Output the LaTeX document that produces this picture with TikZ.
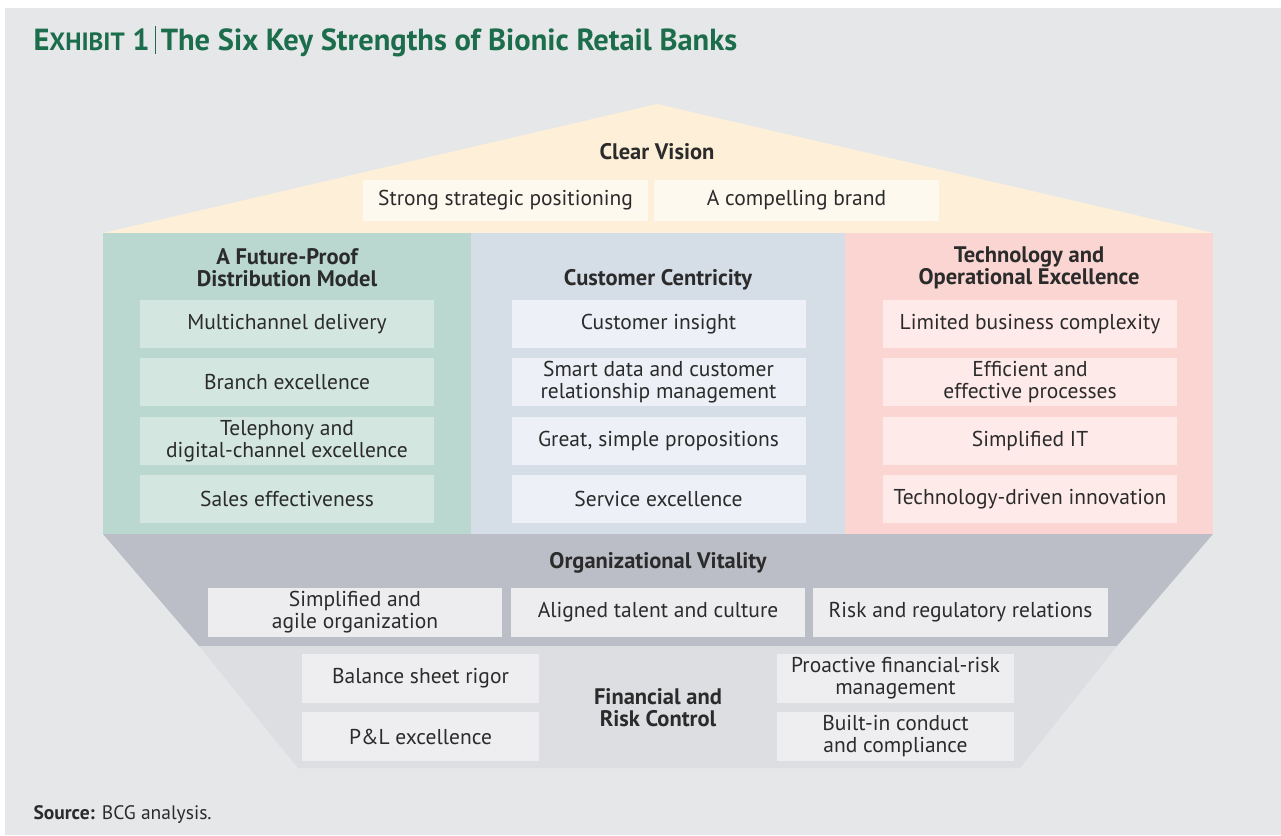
\documentclass[tikz,border=0pt]{standalone}
\usepackage{fontspec}
\setmainfont{PT Sans}
\usetikzlibrary{positioning}

\definecolor{bggray}{HTML}{E6E7E9}
\definecolor{titlegreen}{HTML}{1B6D4B}
\definecolor{inkgray}{HTML}{2B2B2B}
\definecolor{roofcol}{HTML}{FEF0D8}
\definecolor{roofbox}{HTML}{FEF9EE}
\definecolor{tealcol}{HTML}{BAD8D0}
\definecolor{tealbox}{HTML}{D3E6E0}
\definecolor{bluecol}{HTML}{D5DDE7}
\definecolor{bluebox}{HTML}{EDF0F6}
\definecolor{redcol}{HTML}{FAD5D1}
\definecolor{redbox}{HTML}{FEEAE9}
\definecolor{orgcol}{HTML}{BBBEC6}
\definecolor{orgbox}{HTML}{EDEDEF}
\definecolor{fincol}{HTML}{DDDEE1}
\definecolor{finbox}{HTML}{EEEEF0}

\begin{document}
\begin{tikzpicture}[
    x=1pt, y=-1pt,
    item/.style={rectangle, minimum width=294pt, minimum height=48pt, inner sep=0pt, align=center, text=inkgray, font=\fontsize{21.5}{22}\selectfont},
    head/.style={align=center, text=inkgray, font=\fontsize{22.5}{22}\selectfont\bfseries},
    roofitem/.style={item, fill=roofbox, minimum width=285pt, minimum height=41pt},
    finitem/.style={item, fill=finbox, minimum width=237pt, minimum height=49pt}
]
\useasboundingbox (0,0) rectangle (1281,835);
\fill[bggray] (5,8) rectangle (1281,835);

% Title
\node[anchor=base west, text=titlegreen, font=\fontsize{30.5}{33}\selectfont\bfseries] (title) at (30,50)
    {E{\fontsize{25}{27}\selectfont XHIBIT} 1\,\rule[-4pt]{0.8pt}{28pt}\,The Six Key Strengths of Bionic Retail Banks};

% Clear Vision (roof)
\fill[roofcol] (103,233) -- (657,104) -- (1213,233) -- cycle;
\node[head] (vision) at (657,152) {Clear Vision};
\node[roofitem] (strategy) at (505.5,200.5) {Strong strategic positioning};
\node[roofitem] (brand) at (796.5,200.5) {A compelling brand};

% Pillars
\fill[tealcol] (103,233) rectangle (471,534);
\fill[bluecol] (471,233) rectangle (845,534);
\fill[redcol] (845,233) rectangle (1213,534);

% Distribution Model
\node[head] (distrib) at (287,268) {A Future-Proof\\Distribution Model};
\node[item, fill=tealbox] (multi) at (287,324) {Multichannel delivery};
\node[item, fill=tealbox] (branch) at (287,382) {Branch excellence};
\node[item, fill=tealbox] (phone) at (287,441) {Telephony and\\digital-channel excellence};
\node[item, fill=tealbox] (sales) at (287,499) {Sales effectiveness};

% Customer Centricity
\node[head] (custom) at (658,280) {Customer Centricity};
\node[item, fill=bluebox] (insight) at (658.5,324) {Customer insight};
\node[item, fill=bluebox] (smart) at (658.5,382) {Smart data and customer\\relationship management};
\node[item, fill=bluebox] (offers) at (658.5,441) {Great, simple propositions};
\node[item, fill=bluebox] (service) at (658.5,499) {Service excellence};

% Technology and Operations
\node[head] (techops) at (1029,268) {Technology and\\Operational Excellence};
\node[item, fill=redbox] (complex) at (1030,324) {Limited business complexity};
\node[item, fill=redbox] (process) at (1030,382) {Efficient and\\effective processes};
\node[item, fill=redbox] (simpleit) at (1030,441) {Simplified IT};
\node[item, fill=redbox] (innov) at (1030,499) {Technology-driven innovation};

% Organizational Vitality
\fill[orgcol] (103,534) -- (1213,534) -- (1117,646) -- (199,646) -- cycle;
\node[head] (vital) at (658,563) {Organizational Vitality};
\node[item, fill=orgbox, minimum height=49pt] (agile) at (355,612.5) {Simplified and\\agile organization};
\node[item, fill=orgbox, minimum height=49pt] (talent) at (658,612.5) {Aligned talent and culture};
\node[item, fill=orgbox, minimum height=49pt, minimum width=295pt] (regul) at (960.5,612.5) {Risk and regulatory relations};

% Financial and Risk Control
\fill[fincol] (199,646) -- (1117,646) -- (1020,768) -- (298,768) -- cycle;
\node[head] (finrisk) at (658,708) {Financial and\\Risk Control};
\node[finitem] (balance) at (420.5,678.5) {Balance sheet rigor};
\node[finitem] (pnl) at (420.5,736.5) {P\&L excellence};
\node[finitem] (proact) at (895.5,678.5) {Proactive financial-risk\\management};
\node[finitem] (conduct) at (895.5,736.5) {Built-in conduct\\and compliance};

% Source
\node[anchor=base west, text=inkgray, font=\fontsize{19.5}{22}\selectfont] (source) at (30,819)
    {\textbf{Source:} BCG analysis.};
\end{tikzpicture}
\end{document}
